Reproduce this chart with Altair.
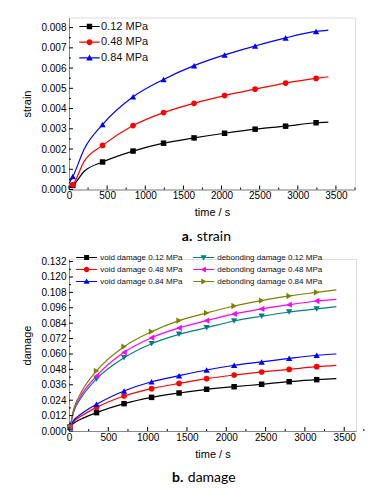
import altair as alt
import pandas as pd

# ---------------- panel a: strain ----------------
STRAIN_TIME = [0, 50, 200, 440, 840, 1240, 1640, 2040, 2440, 2840, 3240, 3400]
STRAIN_MARKER = [False, True, False, True, True, True, True, True, True, True, True, False]
STRAIN_012 = [0.0001, 0.0002, 0.0009, 0.00136, 0.0019, 0.00229, 0.00255, 0.00278, 0.00298, 0.00313, 0.0033, 0.00333]
STRAIN_048 = [0.0001, 0.00023, 0.0014, 0.00218, 0.00316, 0.0038, 0.00426, 0.00464, 0.00496, 0.00526, 0.00549, 0.00557]
STRAIN_084 = [0.0003, 0.00064, 0.0020, 0.00321, 0.00458, 0.00544, 0.00612, 0.00665, 0.00709, 0.00749, 0.00781, 0.00788]
STRAIN_SERIES = ["0.12 MPa", "0.48 MPa", "0.84 MPa"]
STRAIN_COLORS = ["#000000", "#ff0000", "#0000ff"]
STRAIN_SHAPES = ["square", "circle", "triangle-up"]
STRAIN_YTICKS = [0.000, 0.001, 0.002, 0.003, 0.004, 0.005, 0.006, 0.007, 0.008]
STRAIN_YMINOR = [0.0005, 0.0015, 0.0025, 0.0035, 0.0045, 0.0055, 0.0065, 0.0075]

# ---------------- panel b: damage ----------------
DAMAGE_TIME = [0, 10, 60, 150, 350, 700, 1050, 1400, 1750, 2100, 2450, 2800, 3150, 3400]
DAMAGE_MARKER = [False, True, False, False, True, True, True, True, True, True, True, True, True, False]
VOID_012 = [0.002, 0.003, 0.006, 0.0092, 0.0143, 0.0213, 0.0262, 0.0296, 0.0325, 0.0345, 0.0364, 0.0384, 0.0400, 0.0408]
VOID_048 = [0.002, 0.003, 0.0074, 0.0114, 0.0184, 0.0273, 0.0330, 0.0371, 0.0408, 0.0436, 0.0460, 0.0480, 0.0501, 0.0512]
VOID_084 = [0.002, 0.003, 0.0083, 0.0130, 0.0208, 0.0312, 0.0384, 0.0431, 0.0475, 0.0512, 0.0538, 0.0566, 0.0590, 0.0600]
DEB_012 = [0.002, 0.003, 0.0150, 0.0255, 0.0405, 0.0571, 0.0680, 0.0753, 0.0805, 0.0857, 0.0894, 0.0927, 0.0951, 0.0969]
DEB_048 = [0.002, 0.003, 0.0160, 0.0272, 0.0429, 0.0613, 0.0727, 0.0803, 0.0860, 0.0912, 0.0951, 0.0984, 0.1013, 0.1026]
DEB_084 = [0.002, 0.003, 0.0172, 0.0295, 0.0468, 0.0657, 0.0774, 0.0860, 0.0920, 0.0974, 0.1016, 0.1052, 0.1080, 0.1099]
DAMAGE_SERIES = ["void damage 0.12 MPa", "void damage 0.48 MPa", "void damage 0.84 MPa",
                 "debonding damage 0.12 MPa", "debonding damage 0.48 MPa", "debonding damage 0.84 MPa"]
DAMAGE_COLORS = ["#000000", "#ff0000", "#0000ff", "#008080", "#ff00ff", "#808000"]
DAMAGE_SHAPES = ["square", "circle", "triangle-up", "triangle-down", "triangle-left", "triangle-right"]
DAMAGE_YTICKS = [0.000, 0.012, 0.024, 0.036, 0.048, 0.060, 0.072, 0.084, 0.096, 0.108, 0.120, 0.132]
DAMAGE_YMINOR = [0.006, 0.018, 0.030, 0.042, 0.054, 0.066, 0.078, 0.090, 0.102, 0.114, 0.126]

X_LABELS = [0, 500, 1000, 1500, 2000, 2500, 3000, 3500]
X_MINOR = [250, 750, 1250, 1750, 2250, 2750, 3250, 3750]

FONT = "Liberation Sans"

# legend glyphs: marker outline (clockwise so the union with the bar fills cleanly)
MARK_PATHS = {
    "square": "M-0.9,-0.9H0.9V0.9H-0.9Z",
    "circle": "M1,0A1,1,0,1,1,-1,0A1,1,0,1,1,1,0Z",
    "triangle-up": "M0,-1.1L1.1,0.85H-1.1Z",
    "triangle-down": "M0,1.1L-1.1,-0.85H1.1Z",
    "triangle-left": "M-1.1,0L0.85,-1.1V1.1Z",
    "triangle-right": "M1.1,0L-0.85,1.1V-1.1Z",
}
MARK_SIZE = {"square": 30, "circle": 32}


def long_frames(times, marker, series_names, series_values):
    rows = []
    for name, vals in zip(series_names, series_values):
        for t, v, m in zip(times, vals, marker):
            rows.append({"time": t, "value": v, "series": name, "marker": m})
    df = pd.DataFrame(rows)
    return df, df[df["marker"]].reset_index(drop=True)


def panel(df_line, df_mark, series, colors, shapes, xmax, ymax, ymajor, yminor,
          width, height, ytitle, cap_bold, cap_text, cap_x, leg):
    xs = alt.Scale(domain=[0, xmax], nice=False, zero=False)
    ys = alt.Scale(domain=[0, ymax], nice=False, zero=False)
    cscale = alt.Scale(domain=series, range=colors)
    xaxis = alt.Axis(values=X_LABELS, format="d", ticks=False, grid=False, labelPadding=1,
                     title="time / s", titlePadding=6, labelFlush=False, labelOverlap=False,
                     titleFontWeight="normal")
    yaxis = alt.Axis(values=ymajor, format=".3f", ticks=False, grid=False, labelPadding=3,
                     title=ytitle, titlePadding=8.5, labelOverlap=False, titleFontWeight="normal")
    X = lambda f: alt.X(f, scale=xs, axis=xaxis, title="time / s")
    Y = lambda f: alt.Y(f, scale=ys, axis=yaxis, title=ytitle)

    h = leg["half"]
    t = leg["thick"]
    paths = [f"M{-h},{-t}H{h}V{t}H{-h}Z" + MARK_PATHS[s] for s in shapes]
    lg = alt.Legend(orient="none", legendX=leg["x"], legendY=leg["y"], title=None, padding=0,
                    labelFont=FONT, labelFontSize=leg["font"], labelColor="#111111",
                    symbolSize=leg["size"], symbolStrokeWidth=0, symbolOpacity=1,
                    labelOffset=leg["offset"], rowPadding=leg["rowpad"], columns=leg["cols"],
                    columnPadding=leg["colpad"], direction="vertical")

    layers = []
    for name, col, shp in zip(series, colors, shapes):
        layers.append(
            alt.Chart(df_line).transform_filter(alt.datum.series == name).mark_line(
                interpolate="monotone", strokeWidth=1.2, color=col
            ).encode(x=X("time:Q"), y=Y("value:Q"))
        )
    for name, col, shp in zip(series, colors, shapes):
        layers.append(
            alt.Chart(df_mark).transform_filter(alt.datum.series == name).mark_point(
                filled=True, opacity=1, shape=shp, color=col, size=MARK_SIZE.get(shp, 40)
            ).encode(x=X("time:Q"), y=Y("value:Q"))
        )
    # legend-only layer: its rows are filtered away; the legend comes from the explicit scale domains
    layers.append(alt.Chart(df_mark).transform_filter(alt.datum.time < 0).mark_point(
        filled=True, size=leg["size"], strokeWidth=0
    ).encode(
        x=X("time:Q"), y=Y("value:Q"),
        color=alt.Color("series:N", scale=cscale, legend=lg),
        shape=alt.Shape("series:N", scale=alt.Scale(domain=series, range=paths), legend=lg),
    ))

    xt_major = pd.DataFrame({"time": X_LABELS})
    xt_minor = pd.DataFrame({"time": X_MINOR})
    yt_major = pd.DataFrame({"value": ymajor})
    yt_minor = pd.DataFrame({"value": yminor})
    layers.append(alt.Chart(xt_major).mark_rule(color="black", strokeWidth=1).encode(
        x=X("time:Q"), y=alt.value(height), y2=alt.value(height - 4)))
    layers.append(alt.Chart(xt_minor).mark_rule(color="black", strokeWidth=1).encode(
        x=X("time:Q"), y=alt.value(height), y2=alt.value(height - 2)))
    layers.append(alt.Chart(yt_major).mark_rule(color="black", strokeWidth=1).encode(
        y=Y("value:Q"), x=alt.value(0), x2=alt.value(4)))
    layers.append(alt.Chart(yt_minor).mark_rule(color="black", strokeWidth=1).encode(
        y=Y("value:Q"), x=alt.value(0), x2=alt.value(2)))

    layers.append(alt.Chart(pd.DataFrame({"c": [cap_bold]})).mark_text(
        font="Lato", fontSize=14, fontWeight="bold", align="right", baseline="middle", color="black"
    ).encode(text="c:N", x=alt.value(cap_x[0]), y=alt.value(height + 47)))
    layers.append(alt.Chart(pd.DataFrame({"c": [cap_text]})).mark_text(
        font="Lato", fontSize=14, fontWeight="normal", align="left", baseline="middle", color="black"
    ).encode(text="c:N", x=alt.value(cap_x[1]), y=alt.value(height + 47)))

    return alt.layer(*layers).properties(width=width, height=height)


s_line, s_mark = long_frames(STRAIN_TIME, STRAIN_MARKER, STRAIN_SERIES, [STRAIN_012, STRAIN_048, STRAIN_084])
d_line, d_mark = long_frames(DAMAGE_TIME, DAMAGE_MARKER, DAMAGE_SERIES,
                             [VOID_012, VOID_048, VOID_084, DEB_012, DEB_048, DEB_084])

top = panel(s_line, s_mark, STRAIN_SERIES, STRAIN_COLORS, STRAIN_SHAPES, 3750, 0.0085,
            STRAIN_YTICKS, STRAIN_YMINOR, 286, 172, "strain", "a.", "strain", (123.3, 127.8),
            {"x": 15, "y": 3.5, "font": 11, "size": 36, "half": 3.4, "thick": 0.2, "offset": 6,
             "rowpad": 3.7, "cols": 1, "colpad": 10})
bottom = panel(d_line, d_mark, DAMAGE_SERIES, DAMAGE_COLORS, DAMAGE_SHAPES, 3650, 0.134,
               DAMAGE_YTICKS, DAMAGE_YMINOR, 287, 172, "damage", "b.", "damage", (114.3, 118.8),
               {"x": 13.6, "y": -5.5, "font": 8, "size": 30, "half": 3.83, "thick": 0.22, "offset": 9.6,
                "rowpad": 4, "cols": 2, "colpad": 10})

chart = alt.vconcat(top, bottom, spacing=8.5).resolve_scale(
    x="independent", y="independent", color="independent", shape="independent"
).resolve_axis(x="independent", y="independent").resolve_legend(
    color="independent", shape="independent"
).properties(
    padding={"left": 12, "top": 8.5, "right": 0, "bottom": 0}
).configure_view(stroke=None).configure_axis(
    labelFont=FONT, labelFontSize=11, labelColor="#111111",
    titleFont=FONT, titleFontSize=11, titleFontWeight="normal", titleColor="#111111",
    domainColor="black", domainWidth=1,
).configure(background="white")

chart.save("out.html", embed_options={"renderer": "svg", "actions": False})
